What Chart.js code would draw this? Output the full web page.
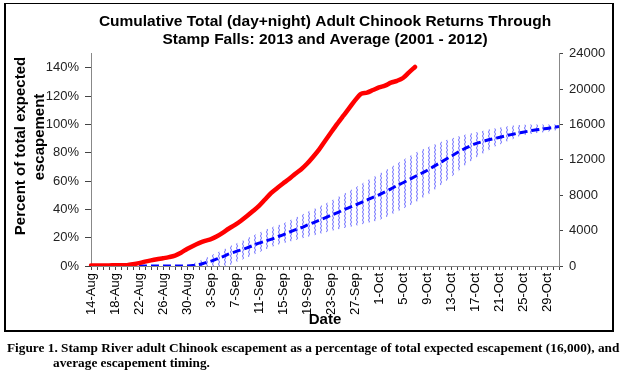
<!DOCTYPE html>
<html>
<head>
<meta charset="utf-8">
<script src="https://cdn.jsdelivr.net/npm/chart.js@4.4.1/dist/chart.umd.min.js"></script>
<style>
  html, body { margin: 0; padding: 0; background: #fff; width: 627px; height: 379px; overflow: hidden; }
  #wrap { position: relative; width: 627px; height: 379px; }
  #c { position: absolute; left: 0; top: 0; }
  #frame { position: absolute; left: 4px; top: 3px; width: 610px; height: 329px; box-sizing: border-box;
           border: 2px solid #000; border-top-width: 1px; pointer-events: none; }
  #caption { position: absolute; left: 7px; top: 341px; width: 620px;
             font-family: "Liberation Serif", "Times New Roman", serif; font-weight: bold;
             font-size: 13.3px; line-height: 14.5px; color: #000; white-space: nowrap; }
  #caption .l2 { padding-left: 46px; }
</style>
</head>
<body>
<div id="wrap">
  <canvas id="c" width="627" height="338"></canvas>
  <div id="frame"></div>
  <div id="caption">Figure 1. Stamp River adult Chinook escapement as a percentage of total expected escapement (16,000), and<br><span class="l2">average escapement timing.</span></div>
</div>
<script>
// ---- Data (percent of total expected escapement of 16,000) ----
const categories = [
  "14-Aug","15-Aug","16-Aug","17-Aug","18-Aug","19-Aug","20-Aug","21-Aug","22-Aug","23-Aug","24-Aug","25-Aug","26-Aug","27-Aug","28-Aug","29-Aug","30-Aug","31-Aug",
  "1-Sep","2-Sep","3-Sep","4-Sep","5-Sep","6-Sep","7-Sep","8-Sep","9-Sep","10-Sep","11-Sep","12-Sep","13-Sep","14-Sep","15-Sep","16-Sep","17-Sep","18-Sep","19-Sep","20-Sep","21-Sep","22-Sep","23-Sep","24-Sep","25-Sep","26-Sep","27-Sep","28-Sep","29-Sep","30-Sep",
  "1-Oct","2-Oct","3-Oct","4-Oct","5-Oct","6-Oct","7-Oct","8-Oct","9-Oct","10-Oct","11-Oct","12-Oct","13-Oct","14-Oct","15-Oct","16-Oct","17-Oct","18-Oct","19-Oct","20-Oct","21-Oct","22-Oct","23-Oct","24-Oct","25-Oct","26-Oct","27-Oct","28-Oct","29-Oct","30-Oct","31-Oct"
];
const labelEvery = 4;

const returns2013 = [0.3,0.3,0.4,0.4,0.5,0.5,0.6,1.2,2.0,3.1,4.0,4.8,5.5,6.3,7.4,9.4,12.0,14.2,16.2,17.8,
  19.0,21.0,23.6,26.5,29.0,32.0,35.3,38.8,42.5,47.0,51.5,55.0,58.3,61.4,65.0,68.2,72.2,77.0,82.2,88.3,
  94.3,100.2,105.8,111.3,117.0,121.6,122.5,124.3,126.1,127.4,129.5,130.8,132.8,136.8,140.6];

const average = [0,0,0,0,0,0,0,0,0,0,0,0,0,0,0,0,0,
  0.3,1.0,2.2,3.4,5.0,6.6,8.5,10.0,11.3,12.8,14.5,16.2,17.5,18.8,20.5,22.0,23.8,25.5,27.0,28.8,30.5,32.2,34.0,35.8,
  37.5,39.5,41.2,43.0,44.8,46.6,48.5,50.3,52.3,54.5,56.8,58.8,61.0,63.2,65.3,67.5,70.0,72.5,75.0,77.5,
  80.0,82.3,84.3,86.2,87.6,88.8,89.8,90.8,91.8,92.8,93.7,94.5,95.3,96.0,96.6,97.2,97.8,98.5];

const rangeHigh = [0,0,0,0,0,0,0,0,0,0,0,0,0,0,0,0,0,
  1.5,3.5,5.5,7.5,9.5,11.5,13.6,15.5,17.5,19.5,21.5,23.5,25.5,27.0,28.6,30.0,32.0,34.0,36.0,38.0,40.0,42.0,44.0,46.0,
  48.3,50.6,53.0,55.3,57.8,60.3,62.7,65.0,67.4,69.8,72.2,74.8,77.3,79.8,82.0,83.6,85.3,87.0,88.6,90.0,
  91.3,92.4,93.4,94.3,95.2,96.1,96.9,97.6,98.3,99.0,99.4,99.7,100,100,100,100,100,100];

const rangeLow = [0,0,0,0,0,0,0,0,0,0,0,0,0,0,0,0,0,0,0,0,0,0,0,
  0.5,2.3,4.2,6.0,7.8,9.7,11.5,13.2,14.8,16.0,17.1,18.2,19.3,20.4,21.5,22.6,23.7,24.8,
  25.8,26.7,27.6,28.5,29.4,30.4,31.4,32.4,34.2,36.2,38.3,40.5,42.5,44.6,47.5,50.0,53.0,56.2,59.3,
  62.8,66.3,69.8,73.2,76.0,78.6,81.0,83.6,85.6,87.4,89.2,91.0,92.3,93.0,93.7,94.3,94.9,95.5,96.0];

const pctTicks = [0, 20, 40, 60, 80, 100, 120, 140];
const pctMax = 150;
const countMax = 24000, countStep = 4000;

// ---- Hatch pattern for the average range band ----
const pc = document.createElement('canvas');
pc.width = 6; pc.height = 4;
const g = pc.getContext('2d');
g.strokeStyle = 'rgba(40,40,255,0.7)';
g.lineWidth = 1;
g.beginPath(); g.moveTo(2.5, 0); g.lineTo(3.5, 2); g.lineTo(2.5, 4); g.stroke();
const hatch = document.createElement('canvas').getContext('2d').createPattern(pc, 'repeat');

const FONT = '"Liberation Sans", Arial, sans-serif';
Chart.defaults.font.family = FONT;
Chart.defaults.color = '#000';

const yTitlePlugin = {
  id: 'yTitle',
  afterDraw(chart) {
    const ctx = chart.ctx;
    const lines = [['Percent of total expected', 21, 146], ['escapement', 40, 137]];
    lines.forEach(([txt, x, y]) => {
      ctx.save();
      ctx.font = 'bold 15px ' + FONT;
      ctx.fillStyle = '#000';
      ctx.textAlign = 'center';
      ctx.textBaseline = 'middle';
      ctx.translate(x, y); ctx.rotate(-Math.PI / 2);
      ctx.fillText(txt, 0, 0);
      ctx.restore();
    });
  }
};

new Chart(document.getElementById('c'), {
  type: 'line',
  data: {
    labels: categories,
    datasets: [
      { label: '2013', data: returns2013, borderColor: '#ff0000', borderWidth: 4.5, pointRadius: 0,
        tension: 0.3, borderCapStyle: 'round', fill: false, yAxisID: 'y' },
      { label: 'Average', data: average, borderColor: '#0000ff', borderWidth: 3, borderDash: [8, 4],
        pointRadius: 0, tension: 0.3, fill: false, yAxisID: 'y' },
      { label: 'High', data: rangeHigh, borderColor: 'rgba(0,0,0,0)', borderWidth: 0, pointRadius: 0,
        tension: 0.3, backgroundColor: hatch, fill: '+1', yAxisID: 'y' },
      { label: 'Low', data: rangeLow, borderColor: 'rgba(0,0,0,0)', borderWidth: 0, pointRadius: 0,
        tension: 0.3, fill: false, yAxisID: 'y' }
    ]
  },
  options: {
    responsive: false,
    animation: false,
    devicePixelRatio: 1,
    layout: { padding: 0 },
    plugins: {
      legend: { display: false },
      tooltip: { enabled: false },
      title: {
        display: true,
        fullSize: false,
        text: ['Cumulative Total (day+night) Adult Chinook Returns Through', 'Stamp Falls: 2013 and Average (2001 - 2012)'],
        font: { size: 15.5, weight: 'bold', lineHeight: 1.15 },
        color: '#000',
        padding: { top: 13, bottom: 5 }
      }
    },
    scales: {
      x: {
        type: 'category',
        offset: false,
        grid: { drawOnChartArea: false, drawTicks: true, tickLength: 4, color: '#444' },
        border: { display: true, color: '#888', width: 1 },
        ticks: {
          autoSkip: false, maxRotation: 90, minRotation: 90, padding: 3,
          font: { size: 13 }, color: '#000',
          callback: (v, i) => (i % labelEvery === 0 ? categories[i] : '')
        },
        title: { display: true, text: 'Date', font: { size: 15, weight: 'bold', lineHeight: 1.2 },
                 color: '#000', padding: { top: 0, bottom: 9 } },
        afterFit: (s) => { s.height = 72; }
      },
      y: {
        position: 'left', min: 0, max: pctMax,
        grid: { drawOnChartArea: false, drawTicks: true, tickLength: 6, color: '#444' },
        border: { display: true, color: '#888', width: 1 },
        ticks: { padding: 6, font: { size: 13 }, color: '#222', callback: (v) => v + '%' },
        afterBuildTicks: (s) => { s.ticks = pctTicks.map(v => ({ value: v })); },
        afterFit: (s) => { s.width = 91; }
      },
      y2: {
        position: 'right', min: 0, max: countMax,
        grid: { drawOnChartArea: false, drawTicks: true, tickLength: 4, color: '#444' },
        border: { display: true, color: '#888', width: 1 },
        ticks: { stepSize: countStep, padding: 6, font: { size: 13 }, color: '#222',
                 callback: (v) => String(v) },
        afterFit: (s) => { s.width = 68; }
      }
    }
  },
  plugins: [yTitlePlugin]
});
</script>
</body>
</html>
